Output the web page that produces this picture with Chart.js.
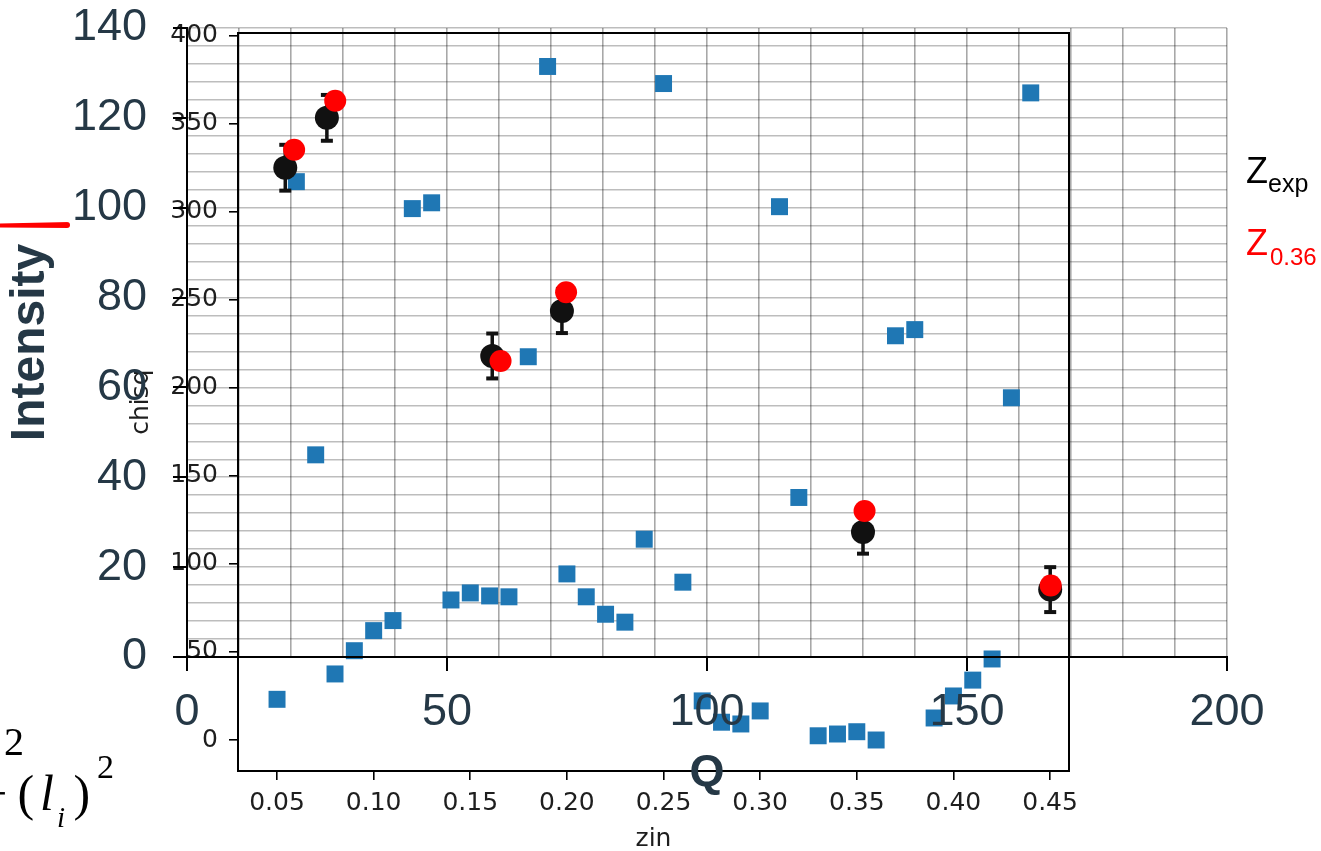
<!DOCTYPE html>
<html><head><meta charset="utf-8">
<script src="https://cdn.jsdelivr.net/npm/chart.js@4.4.1/dist/chart.umd.min.js"></script>
<style>
html,body{margin:0;padding:0;background:#fff;overflow:hidden;}
#wrap{position:relative;width:1321px;height:851px;overflow:hidden;background:#fff;}
canvas{position:absolute;left:0;top:0;}
.t{position:absolute;white-space:nowrap;line-height:1;}
.sans{font-family:'Liberation Sans',Arial,sans-serif;}
.serif{font-family:'Liberation Serif','Times New Roman',serif;color:#000;}
</style></head><body>
<div id="wrap">
<canvas id="gridLayer" width="1321" height="851"></canvas>
<canvas id="chisqLayer" width="1321" height="851"></canvas>
<canvas id="intenLayer" width="1321" height="851"></canvas>

<div style="position:absolute;left:0;top:222px;width:70px;height:6px;background:#ff0000;border-radius:0 3px 3px 0;clip-path:polygon(0 25%,100% 0,100% 100%,0 90%);"></div>

<span class="t sans" style="left:1246px;top:152.5px;font-size:36px;color:#000;">Z</span>
<span class="t sans" style="left:1268px;top:171px;font-size:25px;color:#000;">exp</span>
<span class="t sans" style="left:1246px;top:224.5px;font-size:36px;color:#ff0000;">Z</span>
<span class="t sans" style="left:1270px;top:244.7px;font-size:24px;color:#ff0000;">0.36</span>

<span class="t serif" style="left:4px;top:721.5px;font-size:40px;">2</span>
<span class="t serif" style="left:-21px;top:768px;font-size:50px;">&minus;</span>
<span class="t serif" style="left:17.6px;top:768px;font-size:50px;">(</span>
<span class="t serif" style="left:40px;top:768px;font-size:50px;font-style:italic;">l</span>
<span class="t serif" style="left:57px;top:802.7px;font-size:29px;font-style:italic;">i</span>
<span class="t serif" style="left:73.6px;top:768px;font-size:50px;">)</span>
<span class="t serif" style="left:97px;top:749.5px;font-size:34px;">2</span>
</div>
<script>
// ---- chisq vs zin (blue squares) ----
const zin = [0.05,0.06,0.07,0.08,0.09,0.10,0.11,0.12,0.13,0.14,
             0.15,0.16,0.17,0.18,0.19,0.20,0.21,0.22,0.23,0.24,
             0.25,0.26,0.27,0.28,0.29,0.30,0.31,0.32,0.33,0.34,
             0.35,0.36,0.37,0.38,0.39,0.40,0.41,0.42,0.43,0.44];
const chisq = [23.1,317.0,161.9,37.5,50.7,62.1,67.8,301.7,305.0,79.5,
               83.5,81.8,81.3,217.6,382.4,94.3,81.3,71.4,66.9,114.0,
               372.7,89.6,22.2,10.1,9.1,16.5,302.8,137.7,2.4,3.4,
               4.7,0.0,229.5,233.0,12.5,25.0,34.0,46.0,194.3,367.4];
const zinTicks = [0.05,0.10,0.15,0.20,0.25,0.30,0.35,0.40,0.45];
const chisqTicks = [0,50,100,150,200,250,300,350,400];

// ---- Intensity vs Q ----
const qExp = [18.9, 26.9, 58.7, 72.1, 130.0, 166.0];
const iExp = [108.9, 120.0, 67.0, 77.0, 27.8, 15.0];
const iErr = [5.1, 5.1, 5.0, 4.9, 4.8, 5.0];
const qFit = [20.6, 28.5, 60.3, 72.9, 130.3, 166.1];
const iFit = [112.9, 123.8, 65.9, 81.2, 32.5, 15.9];
const qTickLabels = [0, 50, 100, 150, 200];
const iTickLabels = [0, 20, 40, 60, 80, 100, 120, 140];

const slate = '#253846';
const noPad = s => { s.paddingTop = 0; s.paddingBottom = 0; s.paddingLeft = 0; s.paddingRight = 0; };
const common = {responsive:false, animation:false, events:[], plugins:{legend:{display:false}, tooltip:{enabled:false}}};

// Layer 1: intensity grid
new Chart(document.getElementById('gridLayer'), {
  type:'scatter',
  data:{datasets:[]},
  options:Object.assign({}, common, {
    layout:{padding:{left:0, top:28, right:94, bottom:0}},
    scales:{
      x:{type:'linear', min:0, max:200, position:'bottom',
         ticks:{display:false, stepSize:10},
         grid:{color:'rgba(0,0,0,0.34)', lineWidth:1.6, drawTicks:false},
         border:{display:false},
         afterFit:s=>{ s.height = 194; noPad(s); }},
      y:{type:'linear', min:0, max:140, position:'left',
         ticks:{display:false, stepSize:4},
         grid:{color:'rgba(0,0,0,0.26)', lineWidth:1.6, drawTicks:false},
         border:{display:false},
         afterFit:s=>{ s.width = 187; noPad(s); }}
    }
  })
});

// Layer 2: chisq vs zin
const dejavu = {family:"'DejaVu Sans', sans-serif", size:25};
new Chart(document.getElementById('chisqLayer'), {
  type:'scatter',
  data:{datasets:[{
    data: zin.map((x,i)=>({x:x, y:chisq[i]})),
    pointStyle:'rect', pointRadius:12, pointHoverRadius:12,
    backgroundColor:'#1f77b4', borderWidth:0
  }]},
  options:Object.assign({}, common, {
    layout:{padding:{left:0, top:33, right:252, bottom:0}},
    scales:{
      x:{type:'linear', position:'bottom', min:0.0298, max:0.4598,
         afterBuildTicks:s=>{ s.ticks = zinTicks.map(v=>({value:v})); },
         afterFit:s=>{ s.height = 80; noPad(s); },
         grid:{drawOnChartArea:false, drawTicks:true, tickLength:9, color:'#000', lineWidth:1.6},
         border:{display:true, color:'#000', width:2},
         ticks:{font:dejavu, color:'#1e1e1e', padding:8, maxRotation:0, autoSkip:false, callback:v=>Number(v).toFixed(2)},
         title:{display:true, text:'zin', font:dejavu, color:'#1e1e1e', padding:{top:0, bottom:-3.3}}},
      y:{type:'linear', position:'left', min:-17.6, max:401.4,
         afterBuildTicks:s=>{ s.ticks = chisqTicks.map(v=>({value:v})); },
         afterFit:s=>{ s.width = 238; noPad(s); },
         grid:{drawOnChartArea:false, drawTicks:true, tickLength:9, color:'#000', lineWidth:1.6},
         border:{display:true, color:'#000', width:2},
         ticks:{font:dejavu, color:'#1e1e1e', padding:11, autoSkip:false, callback:v=>String(v)},
         title:{display:true, text:'chisq', font:dejavu, color:'#1e1e1e', padding:{top:126, bottom:0}}},
      x2:{type:'linear', position:'top', display:true,
         ticks:{display:false}, grid:{drawOnChartArea:false, drawTicks:false},
         border:{display:true, color:'#000', width:2},
         afterFit:s=>{ s.height = 0; noPad(s); }},
      y2:{type:'linear', position:'right', display:true,
         ticks:{display:false}, grid:{drawOnChartArea:false, drawTicks:false},
         border:{display:true, color:'#000', width:2},
         afterFit:s=>{ s.width = 0; noPad(s); }}
    }
  })
});

// Layer 3: intensity axes and data
const errData = [];
qExp.forEach((q,i)=>{
  errData.push({x:q, y:iExp[i]-iErr[i]});
  errData.push({x:q, y:iExp[i]+iErr[i]});
  errData.push({x:q, y:null});
});
const arial = {family:"'Liberation Sans', Arial, sans-serif", size:45};
new Chart(document.getElementById('intenLayer'), {
  type:'scatter',
  data:{datasets:[
    {label:'Z0.36', data:qFit.map((q,i)=>({x:q, y:iFit[i]})),
     pointRadius:11, pointHoverRadius:11, backgroundColor:'#ff0000', borderWidth:0},
    {label:'Zexp', data:qExp.map((q,i)=>({x:q, y:iExp[i]})),
     pointRadius:12, pointHoverRadius:12, backgroundColor:'#111111', borderWidth:0},
    {label:'err', data:errData, showLine:true, spanGaps:false,
     borderColor:'#111111', borderWidth:3.5,
     pointStyle:'line', pointRadius:6, pointHoverRadius:6,
     pointBorderColor:'#111111', pointBorderWidth:4, pointBackgroundColor:'#111111'}
  ]},
  options:Object.assign({}, common, {
    layout:{padding:{left:0, top:28, right:94, bottom:0}},
    scales:{
      x:{type:'linear', min:0, max:200, position:'bottom',
         afterBuildTicks:s=>{ s.ticks = qTickLabels.map(v=>({value:v})); },
         afterFit:s=>{ s.height = 194; noPad(s); },
         grid:{drawOnChartArea:false, drawTicks:true, tickLength:14, color:'#000', lineWidth:2},
         border:{display:true, color:'#000', width:2},
         ticks:{font:arial, color:slate, padding:15, maxRotation:0, autoSkip:false},
         title:{display:true, text:'Q', color:slate,
                font:{family:"'Liberation Sans', Arial, sans-serif", size:45, weight:'bold'},
                padding:{top:0, bottom:50}}},
      y:{type:'linear', min:0, max:140, position:'left',
         afterBuildTicks:s=>{ s.ticks = iTickLabels.map(v=>({value:v})); },
         afterFit:s=>{ s.width = 187; noPad(s); },
         grid:{drawOnChartArea:false, drawTicks:true, tickLength:14, color:'#000', lineWidth:2},
         border:{display:true, color:'#000', width:2},
         ticks:{font:arial, color:slate, padding:26, autoSkip:false},
         title:{display:true, text:'Intensity', color:slate,
                font:{family:"'Liberation Sans', Arial, sans-serif", size:48, weight:'bold'},
                padding:{top:1.6, bottom:0}}}
    }
  })
});
</script>
</body></html>
